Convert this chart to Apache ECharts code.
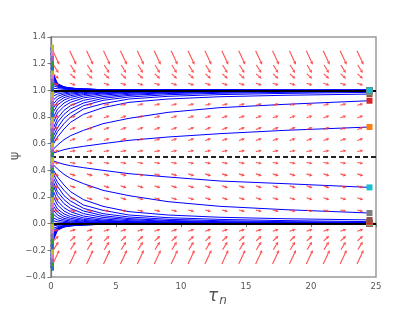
<!DOCTYPE html>
<html><head><meta charset="utf-8">
<script src="https://cdn.jsdelivr.net/npm/echarts@6/dist/echarts.min.js"></script>
<style>html,body{margin:0;padding:0;background:#fff}#c{width:417px;height:313px}</style>
</head><body><div id="c"></div>
<script>
// ---- data ----
const tSamples = [0, 0.2, 0.5, 1, 1.5, 2.5, 4, 6, 9, 13, 18, 24.5];

// trajectories below 0 (ascending start value)
const trajNeg = [
  [-0.33, -0.12, -0.05, -0.025, -0.017, -0.009, -0.005, -0.003, -0.002, -0.001, 0, 0],
  [-0.30, -0.11, -0.047, -0.024, -0.016, -0.009, -0.005, -0.003, -0.002, -0.001, 0, 0],
  [-0.27, -0.10, -0.045, -0.023, -0.015, -0.008, -0.005, -0.003, -0.002, -0.001, 0, 0],
  [-0.24, -0.09, -0.042, -0.022, -0.015, -0.008, -0.005, -0.003, -0.002, -0.001, 0, 0],
  [-0.21, -0.085, -0.04, -0.021, -0.014, -0.008, -0.005, -0.003, -0.002, -0.001, 0, 0],
  [-0.17, -0.075, -0.037, -0.02, -0.013, -0.008, -0.004, -0.003, -0.002, -0.001, 0, 0],
  [-0.13, -0.065, -0.033, -0.018, -0.012, -0.007, -0.004, -0.003, -0.002, -0.001, 0, 0],
  [-0.09, -0.052, -0.029, -0.016, -0.011, -0.007, -0.004, -0.002, -0.001, -0.001, 0, 0],
  [-0.05, -0.035, -0.022, -0.013, -0.009, -0.006, -0.003, -0.002, -0.001, -0.001, 0, 0],
  [-0.02, -0.016, -0.012, -0.008, -0.006, -0.004, -0.002, -0.001, -0.001, 0, 0, 0]
];
// trajectories between 0 and 0.5
const trajLow = [
  [0.03, 0.021, 0.014, 0.009, 0.007, 0.004, 0.003, 0.002, 0.001, 0.001, 0, 0],
  [0.06, 0.043, 0.028, 0.018, 0.013, 0.008, 0.005, 0.003, 0.002, 0.001, 0, 0],
  [0.10, 0.07, 0.045, 0.028, 0.02, 0.012, 0.007, 0.004, 0.003, 0.002, 0.001, 0],
  [0.14, 0.10, 0.065, 0.04, 0.029, 0.017, 0.01, 0.006, 0.004, 0.002, 0.001, 0.001],
  [0.18, 0.13, 0.087, 0.055, 0.04, 0.024, 0.015, 0.009, 0.005, 0.003, 0.002, 0.001],
  [0.22, 0.16, 0.11, 0.073, 0.053, 0.032, 0.02, 0.012, 0.007, 0.005, 0.003, 0.002],
  [0.26, 0.20, 0.14, 0.095, 0.07, 0.043, 0.026, 0.016, 0.01, 0.006, 0.004, 0.002],
  [0.30, 0.24, 0.17, 0.12, 0.09, 0.057, 0.035, 0.022, 0.013, 0.008, 0.005, 0.003],
  [0.34, 0.28, 0.21, 0.15, 0.115, 0.075, 0.047, 0.03, 0.018, 0.011, 0.007, 0.005],
  [0.37, 0.31, 0.24, 0.18, 0.14, 0.095, 0.06, 0.038, 0.024, 0.015, 0.01, 0.007],
  [0.40, 0.34, 0.28, 0.21, 0.17, 0.115, 0.075, 0.05, 0.033, 0.022, 0.015, 0.01],
  [0.42, 0.37, 0.31, 0.25, 0.20, 0.14, 0.10, 0.065, 0.045, 0.032, 0.023, 0.015],
  [0.44, 0.40, 0.35, 0.29, 0.24, 0.18, 0.13, 0.09, 0.065, 0.048, 0.037, 0.028],
  [0.46, 0.44, 0.41, 0.37, 0.34, 0.30, 0.25, 0.21, 0.165, 0.13, 0.105, 0.08],
  [0.48, 0.47, 0.46, 0.445, 0.435, 0.42, 0.40, 0.375, 0.35, 0.32, 0.30, 0.272]
];
// trajectories between 0.5 and 1
const trajHigh = [
  [0.52, 0.53, 0.54, 0.555, 0.565, 0.58, 0.60, 0.625, 0.65, 0.675, 0.70, 0.725],
  [0.54, 0.56, 0.59, 0.63, 0.66, 0.70, 0.75, 0.79, 0.835, 0.87, 0.895, 0.922],
  [0.56, 0.60, 0.65, 0.71, 0.76, 0.82, 0.87, 0.91, 0.935, 0.952, 0.963, 0.972],
  [0.58, 0.63, 0.69, 0.75, 0.80, 0.86, 0.90, 0.935, 0.955, 0.968, 0.977, 0.985],
  [0.60, 0.66, 0.72, 0.79, 0.83, 0.885, 0.925, 0.95, 0.967, 0.978, 0.985, 0.99],
  [0.63, 0.69, 0.76, 0.82, 0.86, 0.905, 0.94, 0.962, 0.976, 0.985, 0.99, 0.993],
  [0.66, 0.72, 0.79, 0.85, 0.885, 0.925, 0.953, 0.97, 0.982, 0.989, 0.993, 0.995],
  [0.70, 0.76, 0.83, 0.88, 0.91, 0.943, 0.965, 0.978, 0.987, 0.992, 0.995, 0.997],
  [0.74, 0.80, 0.86, 0.905, 0.93, 0.957, 0.974, 0.984, 0.99, 0.994, 0.996, 0.998],
  [0.78, 0.84, 0.89, 0.927, 0.947, 0.968, 0.98, 0.988, 0.993, 0.995, 0.997, 0.998],
  [0.82, 0.87, 0.913, 0.945, 0.96, 0.976, 0.985, 0.991, 0.995, 0.997, 0.998, 0.999],
  [0.86, 0.90, 0.935, 0.96, 0.971, 0.983, 0.99, 0.994, 0.996, 0.998, 0.999, 0.999],
  [0.90, 0.93, 0.955, 0.972, 0.98, 0.988, 0.993, 0.996, 0.997, 0.998, 0.999, 1.0],
  [0.94, 0.957, 0.972, 0.982, 0.987, 0.992, 0.995, 0.997, 0.998, 0.999, 1.0, 1.0],
  [0.97, 0.979, 0.986, 0.991, 0.993, 0.996, 0.997, 0.998, 0.999, 1.0, 1.0, 1.0]
];
// trajectories above 1
const trajTop = [
  [1.02, 1.016, 1.012, 1.008, 1.006, 1.004, 1.002, 1.001, 1.001, 1.0, 1.0, 1.0],
  [1.05, 1.035, 1.023, 1.014, 1.01, 1.006, 1.004, 1.002, 1.001, 1.001, 1.0, 1.0],
  [1.08, 1.05, 1.03, 1.017, 1.012, 1.007, 1.004, 1.002, 1.001, 1.001, 1.0, 1.0],
  [1.11, 1.06, 1.034, 1.019, 1.013, 1.008, 1.005, 1.003, 1.002, 1.001, 1.0, 1.0],
  [1.14, 1.07, 1.038, 1.021, 1.014, 1.008, 1.005, 1.003, 1.002, 1.001, 1.0, 1.0],
  [1.17, 1.08, 1.041, 1.022, 1.015, 1.009, 1.005, 1.003, 1.002, 1.001, 1.0, 1.0],
  [1.20, 1.09, 1.044, 1.023, 1.016, 1.009, 1.005, 1.003, 1.002, 1.001, 1.0, 1.0],
  [1.24, 1.10, 1.047, 1.024, 1.016, 1.009, 1.005, 1.003, 1.002, 1.001, 1.0, 1.0],
  [1.28, 1.11, 1.049, 1.025, 1.017, 1.009, 1.005, 1.003, 1.002, 1.001, 1.0, 1.0],
  [1.32, 1.12, 1.05, 1.026, 1.017, 1.009, 1.005, 1.003, 1.002, 1.001, 1.0, 1.0]
];

// direction field (quiver) grid
const arrowCols = [0.39, 1.69, 2.99, 4.29, 5.59, 6.89, 8.19, 9.49, 10.79, 12.09, 13.39, 14.69, 15.99, 17.29, 18.59, 19.89, 21.19, 22.49, 23.79];
const arrowRows = [1.245, 1.16, 1.105, 1.045, 0.894, 0.802, 0.7145, 0.632, 0.545, 0.455, 0.366, 0.276, 0.187, 0.097, -0.05, -0.11, -0.165, -0.25];
const fieldU = [6.5, 5, 5.5, 6, 6, 6, 6, 6, 6, 6, 6, 6, 6, 6, 6, 5.5, 5, 6.5];
const fieldV = [-14, -8, -5, -2, 1.5, 2, 2.2, 2, 1, -1, -2, -2.2, -2, -1.5, 2, 5, 8, 14];

// reference levels
const solidLevels = [1.0, 0.0];
const dashedLevels = [0.5];

// axis ticks
const xTickValues = [0, 5, 10, 15, 20, 25];
const xTickLabels = ['0', '5', '10', '15', '20', '25'];
const yTickValues = [-0.4, -0.2, 0.0, 0.2, 0.4, 0.6, 0.8, 1.0, 1.2, 1.4];
const yTickLabels = ['\u22120.4', '\u22120.2', '0.0', '0.2', '0.4', '0.6', '0.8', '1.0', '1.2', '1.4'];

// ---- build chart ----
const palette = ['#1f77b4','#ff7f0e','#2ca02c','#d62728','#9467bd','#8c564b','#e377c2','#7f7f7f','#bcbd22','#17becf'];
const allTraj = [].concat(trajNeg, trajLow, trajHigh, trajTop);
const FONT = 'DejaVu Sans';

function labelFor(values, labels) {
  return function (v) {
    let best = 0, bd = Infinity;
    values.forEach((t, i) => { const d = Math.abs(t - v); if (d < bd) { bd = d; best = i; } });
    return bd < 1e-6 ? labels[best] : '';
  };
}

const series = [];
allTraj.forEach(tr => {
  series.push({
    type: 'line', data: tSamples.map((t, i) => [t, tr[i]]),
    showSymbol: false, smooth: false, silent: true,
    lineStyle: { color: '#0000ff', width: 1 }, z: 2
  });
});

series.push({
  type: 'line', data: [], silent: true, z: 3,
  markLine: {
    silent: true, symbol: ['none', 'none'], label: { show: false },
    data: solidLevels.map(v => ({ yAxis: v, lineStyle: { color: '#000', width: 1.8, type: 'solid' } }))
      .concat(dashedLevels.map(v => ({ yAxis: v, lineStyle: { color: '#222', width: 2, type: [5, 3] } })))
  }
});

const arrowData = [];
arrowRows.forEach((r, ri) => arrowCols.forEach(c => arrowData.push([c, r, fieldU[ri], fieldV[ri]])));
series.push({
  type: 'custom', z: 4, silent: true, data: arrowData,
  renderItem: function (params, api) {
    const c = api.coord([api.value(0), api.value(1)]);
    const u = api.value(2), v = -api.value(3);
    const x0 = c[0] - u / 2, y0 = c[1] - v / 2, x1 = c[0] + u / 2, y1 = c[1] + v / 2;
    const len = Math.hypot(u, v), ux = u / len, uy = v / len;
    const hl = Math.min(3.2, len * 0.5), hw = 1.6;
    const bx = x1 - ux * hl, by = y1 - uy * hl;
    return {
      type: 'group', children: [
        { type: 'line', shape: { x1: x0, y1: y0, x2: bx, y2: by }, style: { stroke: '#ff3333', lineWidth: 1.1, opacity: 0.85 } },
        { type: 'polygon', shape: { points: [[x1, y1], [bx - uy * hw, by + ux * hw], [bx + uy * hw, by - ux * hw]] }, style: { fill: '#ff3333', opacity: 0.85 } }
      ]
    };
  }
});

const markerData = [];
allTraj.forEach((tr, k) => {
  markerData.push([tSamples[0], tr[0], (2 * k) % 10]);
  markerData.push([tSamples[tSamples.length - 1], tr[tr.length - 1], (2 * k + 1) % 10]);
});
series.push({
  type: 'custom', z: 5, silent: true, data: markerData,
  renderItem: function (params, api) {
    const c = api.coord([api.value(0), api.value(1)]);
    const rect = { x: c[0] - 3, y: c[1] - 3, width: 6, height: 6 };
    const cl = echarts.graphic.clipRectByRect(rect, params.coordSys);
    if (!cl) return null;
    return { type: 'rect', shape: cl, style: { fill: palette[api.value(2)] } };
  }
});

const chart = echarts.init(document.getElementById('c'), null, { renderer: 'canvas' });
chart.setOption({
  animation: false,
  backgroundColor: '#fff',
  grid: { left: 51, top: 37, width: 325, height: 240, show: true, borderColor: '#999', borderWidth: 1.5, backgroundColor: 'transparent' },
  xAxis: {
    type: 'value', min: 0, max: 25, interval: 5,
    axisLine: { show: true, lineStyle: { color: '#777', width: 1.3 } },
    axisTick: { show: true, inside: false, length: 3.5, lineStyle: { color: '#777' } },
    axisLabel: { color: '#555', fontSize: 8.5, fontFamily: FONT, margin: 5, formatter: labelFor(xTickValues, xTickLabels) },
    splitLine: { show: false }
  },
  yAxis: {
    type: 'value', min: -0.4, max: 1.4, interval: 0.2,
    axisLine: { show: true, lineStyle: { color: '#777', width: 1.3 } },
    axisTick: { show: true, inside: false, length: 3.5, lineStyle: { color: '#777' } },
    axisLabel: { color: '#555', fontSize: 8.5, fontFamily: FONT, margin: 5, formatter: labelFor(yTickValues, yTickLabels) },
    splitLine: { show: false }
  },
  graphic: [
    { type: 'text', x: 15, y: 156, rotation: Math.PI / 2, silent: true,
      style: { text: 'ψ', fontSize: 13, fontFamily: FONT, fill: '#555', align: 'center', verticalAlign: 'middle' } },
    { type: 'text', x: 213, y: 297, silent: true,
      style: { text: 'τ', fontSize: 17, fontStyle: 'italic', fontFamily: FONT, fill: '#555', align: 'center', verticalAlign: 'middle' } },
    { type: 'text', x: 223, y: 300.5, silent: true,
      style: { text: 'n', fontSize: 12, fontStyle: 'italic', fontFamily: FONT, fill: '#555', align: 'center', verticalAlign: 'middle' } }
  ],
  series: series
});
</script>
</body></html>
